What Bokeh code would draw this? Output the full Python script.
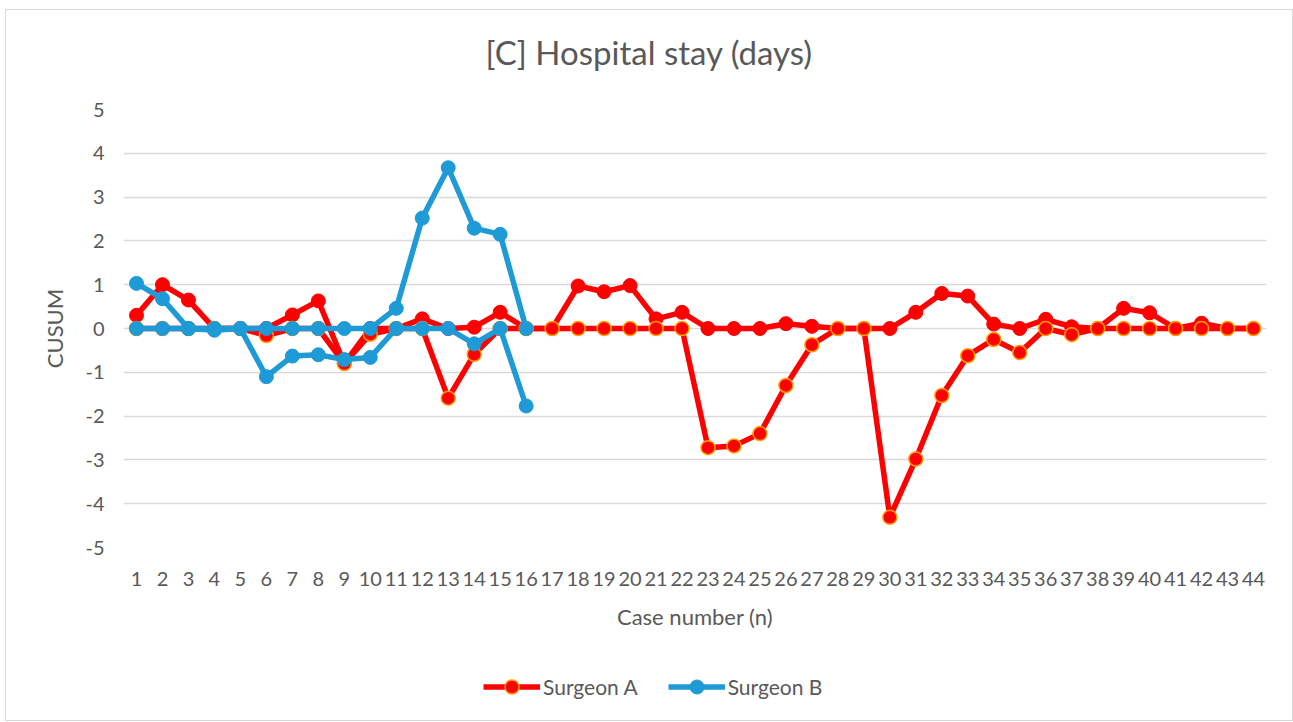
from bokeh.plotting import figure
from bokeh.layouts import column
from bokeh.models import (Range1d, FactorRange, FixedTicker, Title, Legend, LegendItem,
                          ColumnDataSource)
from bokeh.embed import file_html
from bokeh.resources import INLINE

# ---------------- data ----------------
cases_a = [str(i) for i in range(1, 45)]
cases_b = [str(i) for i in range(1, 17)]

surgeon_a_high = [0.30, 1.00, 0.65, 0.00, 0.00, 0.00, 0.31, 0.63, -0.80, 0.00,
                  0.00, 0.22, 0.00, 0.03, 0.37, 0.00, 0.00, 0.97, 0.84, 0.98,
                  0.22, 0.37, 0.00, 0.00, 0.00, 0.11, 0.05, 0.00, 0.00, 0.00,
                  0.37, 0.80, 0.74, 0.10, 0.00, 0.21, 0.04, 0.00, 0.46, 0.36,
                  0.00, 0.12, 0.00, 0.00]
surgeon_a_low = [0.00, 0.00, 0.00, 0.00, 0.00, -0.16, 0.00, 0.00, -0.80, -0.13,
                 0.00, 0.00, -1.59, -0.59, 0.00, 0.00, 0.00, 0.00, 0.00, 0.00,
                 0.00, 0.00, -2.72, -2.68, -2.40, -1.30, -0.37, 0.00, 0.00, -4.31,
                 -2.98, -1.53, -0.62, -0.25, -0.55, 0.00, -0.14, 0.00, 0.00, 0.00,
                 0.00, 0.00, 0.00, 0.00]
surgeon_b_high = [1.03, 0.68, 0.00, 0.00, 0.00, 0.00, 0.00, 0.00, 0.00, 0.00,
                  0.46, 2.52, 3.67, 2.29, 2.15, 0.00]
surgeon_b_low = [0.00, 0.00, 0.00, -0.04, 0.00, -1.10, -0.63, -0.60, -0.71, -0.66,
                 0.00, 0.00, 0.00, -0.35, 0.00, -1.77]

y_ticks = [-5, -4, -3, -2, -1, 0, 1, 2, 3, 4, 5]
y_tick_labels = ["-5", "-4", "-3", "-2", "-1", "0", "1", "2", "3", "4", "5"]

title_text = "[C] Hospital stay (days)"
x_title = "Case number (n)"
y_title = "CUSUM"
series_names = ["Surgeon A", "Surgeon B"]

# ---------------- style ----------------
FONT = "Lato"
GREY = "#595959"
RED = "#FF0000"
ORANGE = "#FFA000"
BLUE = "#1E9AD6"
LW = 5.5
MS = 14

p = figure(width=1286, height=640,
           x_range=FactorRange(*cases_a, range_padding=0),
           y_range=Range1d(-5, 5),
           output_backend="svg", toolbar_location=None,
           min_border_left=117, min_border_right=26,
           min_border_top=99, min_border_bottom=103,
           background_fill_color="white", border_fill_color="white",
           outline_line_color=None)

p.xgrid.grid_line_color = None
p.ygrid.grid_line_color = "#D9D9D9"
p.ygrid.grid_line_width = 1.3

p.yaxis.ticker = FixedTicker(ticks=y_ticks)
p.yaxis.major_label_overrides = {t: l for t, l in zip(y_ticks, y_tick_labels)}

for ax in (p.xaxis[0], p.yaxis[0]):
    ax.axis_line_color = None
    ax.major_tick_line_color = None
    ax.minor_tick_line_color = None
    ax.major_tick_out = 0
    ax.major_tick_in = 0
    ax.major_label_text_font = FONT
    ax.major_label_text_color = GREY
    ax.axis_label_text_font = FONT
    ax.axis_label_text_color = GREY
    ax.axis_label_text_font_style = "normal"

p.xaxis.major_label_text_font_size = "20px"
p.xaxis.major_label_standoff = 24
p.xaxis.axis_label = x_title
p.xaxis.axis_label_text_font_size = "22px"
p.xaxis.axis_label_standoff = 14

p.yaxis.major_label_text_font_size = "20px"
p.yaxis.major_label_standoff = 19
p.yaxis.axis_label = y_title
p.yaxis.axis_label_text_font_size = "22px"
p.yaxis.axis_label_standoff = 14

src_a = ColumnDataSource(dict(x=cases_a, hi=surgeon_a_high, lo=surgeon_a_low))
src_b = ColumnDataSource(dict(x=cases_b, hi=surgeon_b_high, lo=surgeon_b_low))

# Surgeon A
p.line("x", "hi", source=src_a, line_color=RED, line_width=LW, line_join="round")
p.scatter("x", "hi", source=src_a, size=MS, fill_color=RED, line_color=RED, line_width=1)
p.line("x", "lo", source=src_a, line_color=RED, line_width=LW, line_join="round")
p.scatter("x", "lo", source=src_a, size=MS, fill_color=RED, line_color=ORANGE, line_width=1.5)

# Surgeon B
p.line("x", "hi", source=src_b, line_color=BLUE, line_width=LW, line_join="round")
p.scatter("x", "hi", source=src_b, size=MS, fill_color=BLUE, line_color=BLUE, line_width=1)
p.line("x", "lo", source=src_b, line_color=BLUE, line_width=LW, line_join="round")
p.scatter("x", "lo", source=src_b, size=MS, fill_color=BLUE, line_color=BLUE, line_width=1)

# title: spacer (nearest the frame) then the real title above it
p.add_layout(Title(text=" ", text_font_size="10px", standoff=25), "above")
p.add_layout(Title(text=title_text, align="left", offset=362, vertical_align="bottom",
                   standoff=0, text_font=FONT, text_font_size="33px",
                   text_font_style="normal", text_color=GREY), "above")

# ---------------- legend strip below the chart ----------------
# same sources, but the strip's y range lies far outside the data, so only the
# legend glyphs show
leg = figure(width=1286, height=70, x_range=p.x_range, y_range=Range1d(100, 101),
             output_backend="svg", toolbar_location=None,
             x_axis_location=None, y_axis_location=None, min_border=0,
             background_fill_color="white", border_fill_color="white",
             outline_line_color=None)
leg.xgrid.visible = False
leg.ygrid.visible = False
la = leg.line("x", "lo", source=src_a, line_color=RED, line_width=LW)
sa = leg.scatter("x", "lo", source=src_a, size=MS, fill_color=RED, line_color=ORANGE, line_width=1.5)
lb = leg.line("x", "lo", source=src_b, line_color=BLUE, line_width=LW)
sb = leg.scatter("x", "lo", source=src_b, size=MS, fill_color=BLUE, line_color=BLUE, line_width=1)

legend = Legend(items=[LegendItem(label=series_names[0], renderers=[la, sa]),
                       LegendItem(label=series_names[1], renderers=[lb, sb])],
                orientation="horizontal", location=(360, 16),
                glyph_width=57, glyph_height=35, label_height=20,
                label_standoff=3, spacing=30, padding=0, margin=0,
                border_line_color=None, background_fill_alpha=0,
                label_text_font=FONT, label_text_font_size="21px",
                label_text_color=GREY)
leg.add_layout(legend, "center")

layout = column(p, leg, spacing=0,
                styles={"border": "1px solid #D9D9D9", "margin": "9px 0px 0px 5px"})

open("out.html", "w").write(file_html(layout, INLINE))
